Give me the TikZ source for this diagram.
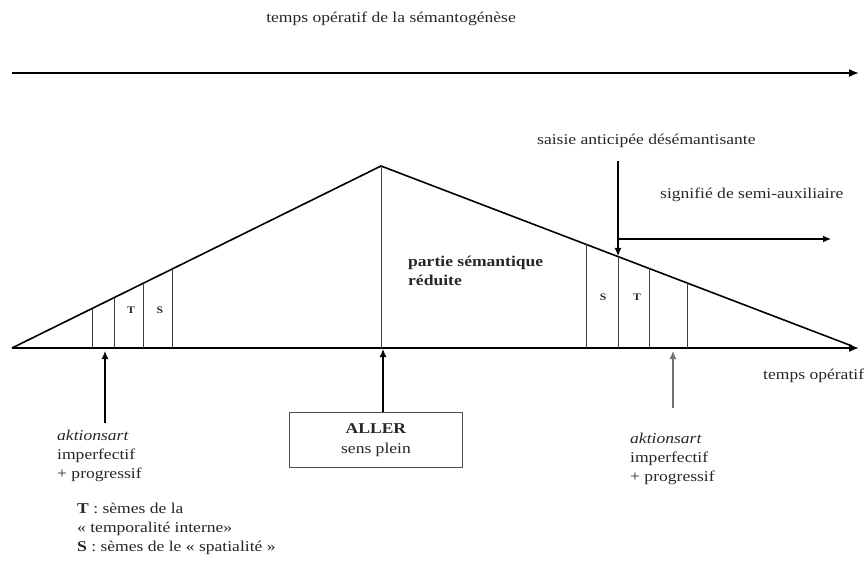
\documentclass[tikz,border=0pt]{standalone}
\usepackage{fontspec}
\setmainfont{Liberation Serif}[FakeStretch=1.17]
\usetikzlibrary{arrows.meta,calc}
\begin{document}
\begin{tikzpicture}[x=1pt,y=-1pt,
  thick line/.style={line width=1.6pt},
  thin line/.style={line width=0.7pt, draw=black!75},
  arr/.style={-{Latex[length=10pt,width=8pt]}},
  sarr/.style={line width=1.2pt, -{Latex[length=8pt,width=7pt]}},
  lbl/.style={font=\fontsize{15}{19}\selectfont, inner sep=0pt, text=black!85},
  small/.style={font=\fontsize{10}{12}\selectfont\bfseries, inner sep=0pt, text=black!85},
  txt/.style={lbl, align=left, anchor=base west}]
\useasboundingbox (0,0) rectangle (867,561);

% main time axis of semantogenesis
\node[lbl, anchor=base] (title) at (391,23) {temps opératif de la sémantogénèse};
\coordinate (t0) at (12,73);
\coordinate (t1) at (859,73);
\draw[thick line, arr] (t0) -- (t1);

% baseline and triangle
\coordinate (b0) at (12,348);
\coordinate (b1) at (859,348);
\coordinate (apex) at (381,166);
\coordinate (rend) at (852,346);
\coordinate (foot) at (381,348);
\draw[thick line, arr] (b0) -- (b1);
\draw[thick line, line join=miter] (b0) -- (apex) -- (rend);
\draw[thin line] (apex) -- (foot);

% left strips
\foreach \x in {92,114,143,172}
  \draw[thin line] (\x,348) -- (\x,{348-(\x-12)/369*182});
\node[small] (tl) at (131,310) {T};
\node[small] (sl) at (160,310) {S};

% right strips
\foreach \x in {586,618,649,687}
  \draw[thin line] (\x,348) -- (\x,{166+(\x-381)/471*180});
\node[small] (sr) at (603,297) {S};
\node[small] (tr) at (637,297) {T};

% central label (base anchor sits on the last line)
\node[txt, font=\fontsize{15}{20}\selectfont\bfseries] (red) at (408,286) {partie sémantique\\réduite};

% ALLER box
\node[draw=black!70, line width=0.7pt, minimum width=173pt, minimum height=55pt, align=center,
      lbl, font=\fontsize{15}{20}\selectfont] (aller) at (376,440) {\textbf{ALLER}\\sens plein};
\coordinate (up) at (383,349);
\draw[sarr] (aller.north -| up) -- (up);

% left aktionsart
\node[txt] (akl) at (57,478) {\textit{aktionsart}\\imperfectif\\+ progressif};
\coordinate (akla) at (105,423);
\coordinate (aklb) at (105,351);
\draw[sarr] (akla) -- (aklb);

% right aktionsart
\node[txt] (akr) at (630,481) {\textit{aktionsart}\\imperfectif\\+ progressif};
\coordinate (akra) at (673,408);
\coordinate (akrb) at (673,351);
\draw[sarr, draw=black!55, fill=black!55] (akra) -- (akrb);

% right side labels
\node[txt] (top) at (763,379) {temps opératif};
\node[txt] (sais) at (537,145) {saisie anticipée désémantisante};
\coordinate (s0) at (618,161);
\coordinate (s1) at (618,256);
\draw[sarr] (s0) -- (s1);
\node[txt] (sig) at (660,199) {signifié de semi-auxiliaire};
\coordinate (h0) at (618,239);
\coordinate (h1) at (831,239);
\draw[sarr] (h0) -- (h1);

% legend
\node[txt] (leg) at (77,551) {\textbf{T} : sèmes de la\\« temporalité interne»\\\textbf{S} : sèmes de le « spatialité »};
\end{tikzpicture}
\end{document}
